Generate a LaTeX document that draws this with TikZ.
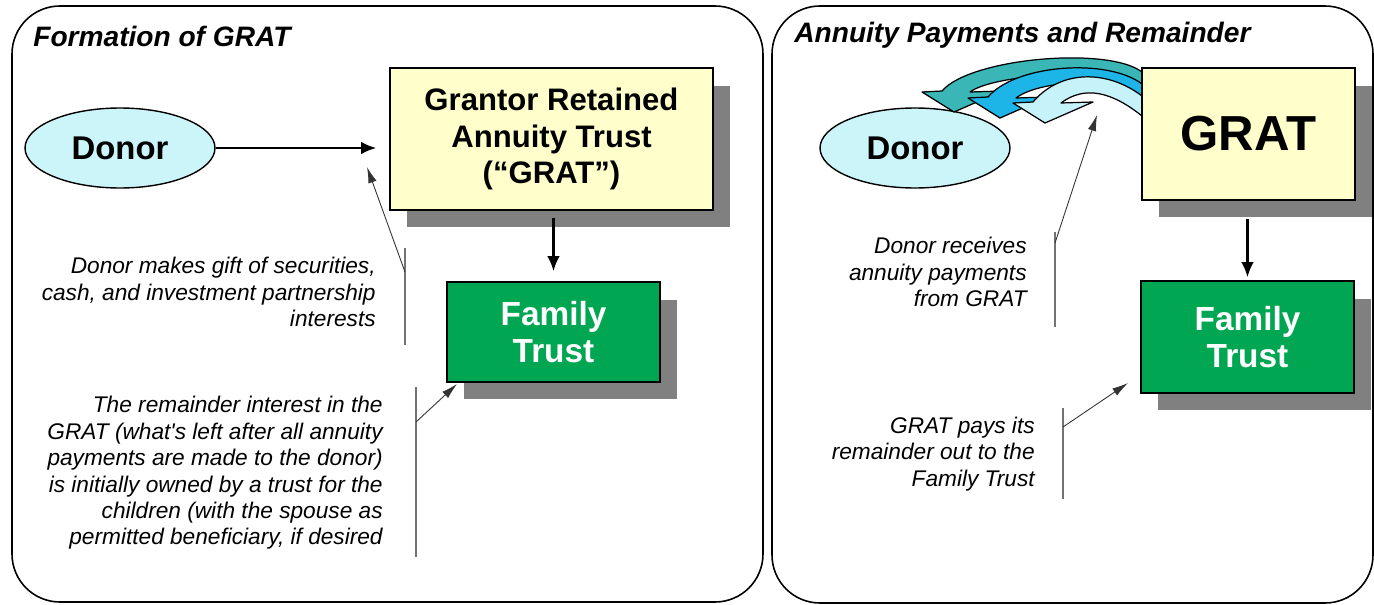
\documentclass[tikz,border=0pt]{standalone}
\usepackage{fontspec}
\setmainfont{Liberation Sans}
\usepackage{tikz}
\usetikzlibrary{shapes.geometric, shadows, arrows.meta}

\definecolor{donorblue}{HTML}{CCF5FA}
\definecolor{gratyellow}{HTML}{FFFFCC}
\definecolor{trustgreen}{HTML}{00A651}
\definecolor{shadowgray}{HTML}{808080}
\definecolor{arrteal}{HTML}{3AB6B6}
\definecolor{arrblue}{HTML}{1DB4E8}
\definecolor{arrlight}{HTML}{C6F2FA}

\tikzset{
  panel/.style={draw=black, line width=0.9pt, rounded corners=0.96cm},
  donor/.style={ellipse, draw=black, line width=0.8pt, fill=donorblue, minimum width=3.8cm, minimum height=1.6cm, inner sep=0pt, font=\fontsize{18.7}{22}\selectfont\bfseries},
  entity/.style={rectangle, draw=black, line width=0.9pt, inner sep=0pt, align=center, drop shadow={shadow xshift=0.34cm, shadow yshift=-0.35cm, fill=shadowgray, opacity=1}},
  note/.style={anchor=east, align=right, inner sep=0pt, font=\fontsize{12.9}{15}\selectfont\itshape},
  title/.style={anchor=base west, inner sep=0pt, font=\fontsize{16}{19}\selectfont\bfseries\itshape},
  flow/.style={-{Latex[length=0.3cm, width=0.25cm]}, line width=1.3pt},
  pointer/.style={-{Latex[length=0.32cm, width=0.17cm]}, line width=0.5pt, black!80},
  bar/.style={line width=0.7pt, black!55}
}

\begin{document}
\begin{tikzpicture}[x=0.02cm, y=-0.02cm]

        \useasboundingbox (0,0) rectangle (1374,605);

        %% Panels
        \draw [panel] (12,6) rectangle (763,602);
        \draw [panel] (772,6) rectangle (1373,603);

        %% Titles
        \node (titleL) [title] at (33,47) {Formation of GRAT};
        \node (titleR) [title] at (794,42) {Annuity Payments and Remainder};

        %% Formation of GRAT
        \node (donorL) [donor] at (120,148) {Donor};
        \node (gratL) [entity, fill=gratyellow, minimum width=6.46cm, minimum height=2.84cm, font=\fontsize{17.7}{21}\selectfont\bfseries] at (551.5,139) {Grantor Retained\\Annuity Trust\\(“GRAT”)};
        \node (famL) [entity, fill=trustgreen, text=white, minimum width=4.26cm, minimum height=2cm, font=\fontsize{19}{21.5}\selectfont\bfseries] at (553.5,332) {Family\\Trust};

        \draw [flow, shorten >=0.26cm] (donorL.east) -- (donorL.east -| gratL.west);
        \draw [flow, shorten <=0.14cm, shorten >=0.2cm] (gratL.south -| famL.north) -- (famL.north);

        \node (noteA) [note] at (376,292) {Donor makes gift of securities,\\cash, and investment partnership\\interests};
        \coordinate (barA1) at (405,248);
        \coordinate (barA2) at (405,345);
        \coordinate (kneeA) at (405,272);
        \coordinate (tipA) at (367,167);
        \draw [bar] (barA1) -- (barA2);
        \draw [pointer] (kneeA) -- (tipA);

        \node (noteB) [note] at (383,473) {The remainder interest in the\\GRAT (what\textquotesingle s left after all annuity\\payments are made to the donor)\\is initially owned by a trust for the\\children (with the spouse as\\permitted beneficiary, if desired};
        \coordinate (barB1) at (416,387);
        \coordinate (barB2) at (416,557);
        \coordinate (kneeB) at (416,422);
        \coordinate (tipB) at (457,384);
        \draw [bar] (barB1) -- (barB2);
        \draw [pointer] (kneeB) -- (tipB);

        %% Annuity Payments and Remainder
        \node (donorR) [donor] at (915,148) {Donor};

        % curved payment arrows, back to front
        \foreach \col/\xl/\yh/\yo/\yi in {arrteal/922/92/72/90, arrblue/968/98/84/100, arrlight/1013/103/96/116} {
          \filldraw [fill=\col, draw=black, line width=0.7pt, line join=round]
            (\xl+20,\yh-1) .. controls (\xl+48,\yh-34) and (1108,\yo-26) .. (1142,\yo)
            -- (1142,\yi) .. controls (1112,\yi-24) and (\xl+72,\yh-18) .. (\xl+48,\yh)
            -- (\xl+80,\yh-1) -- (\xl+32,\yh+20) -- (\xl,\yh) -- cycle;
        }

        \node (gratR) [entity, fill=gratyellow, minimum width=4.26cm, minimum height=2.64cm, font=\fontsize{28}{32}\selectfont\bfseries] at (1248.5,134) {GRAT};
        \node (famR) [entity, fill=trustgreen, text=white, minimum width=4.26cm, minimum height=2.24cm, font=\fontsize{19}{21.5}\selectfont\bfseries] at (1247.5,337) {Family\\Trust};

        \draw [flow, shorten <=0.36cm, shorten >=0.06cm] (gratR.south -| famR.north) -- (famR.north);

        \node (noteC) [note] at (1027,272) {Donor receives\\annuity payments\\from GRAT};
        \coordinate (barC1) at (1055,232);
        \coordinate (barC2) at (1055,327);
        \coordinate (kneeC) at (1055,243);
        \coordinate (tipC) at (1097,115);
        \draw [bar] (barC1) -- (barC2);
        \draw [pointer] (kneeC) -- (tipC);

        \node (noteD) [note] at (1035,454) {GRAT pays its\\remainder out to the\\Family Trust};
        \coordinate (barD1) at (1063,408);
        \coordinate (barD2) at (1063,499);
        \coordinate (kneeD) at (1063,427);
        \coordinate (tipD) at (1128,383);
        \draw [bar] (barD1) -- (barD2);
        \draw [pointer] (kneeD) -- (tipD);

\end{tikzpicture}
\end{document}
